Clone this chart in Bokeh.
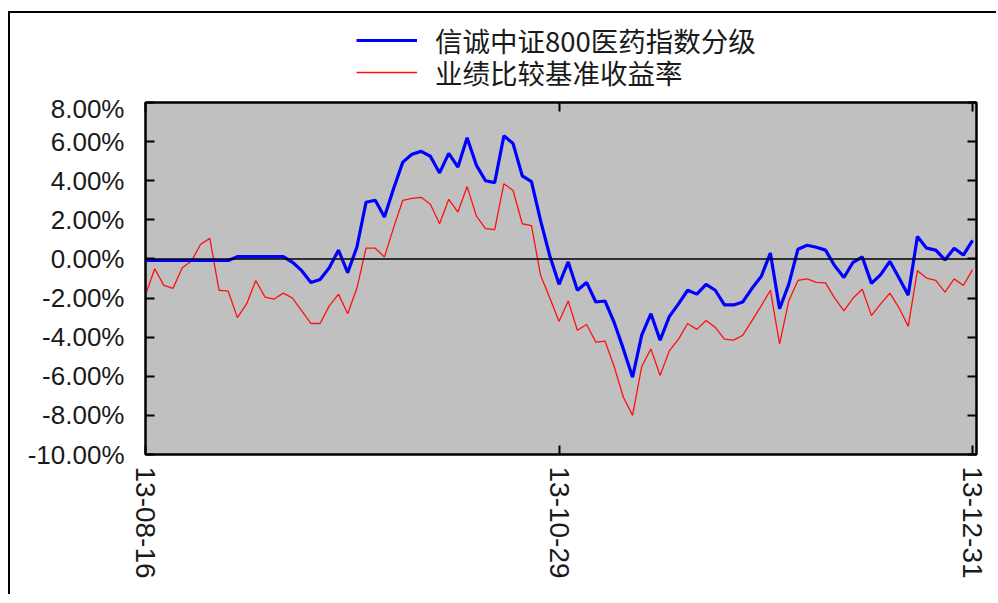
import math
from bokeh.plotting import figure
from bokeh.layouts import column
from bokeh.models import (Range1d, LinearAxis, FixedTicker, PrintfTickFormatter,
                          CustomJSTickFormatter, Span, Legend, ColumnDataSource)
from bokeh.embed import file_html
from bokeh.resources import INLINE

# ---- data (trading-day index 0..90, values in %) ----
tick_idx = [0, 45, 90]
tick_labels = ["13-08-16", "13-10-29", "13-12-31"]
series_fund_name = "信诚中证800医药指数分级"
series_bench_name = "业绩比较基准收益率"

fund = [
    -0.08, -0.08, -0.08, -0.08, -0.08, -0.08, -0.08, -0.08, -0.08, -0.08,
    0.12, 0.12, 0.12, 0.12, 0.12, 0.12,
    -0.17, -0.6, -1.2, -1.05, -0.45, 0.45, -0.7, 0.6,
    2.9, 3.0, 2.15, 3.6, 4.95, 5.35, 5.5, 5.25, 4.4, 5.4, 4.7, 6.2, 4.8, 4.0,
    3.9, 6.3, 5.9, 4.25, 3.95, 1.95, 0.15, -1.3, -0.15,
    -1.6, -1.2, -2.2, -2.15, -3.25, -4.6, -6.05, -3.9, -2.8, -4.15, -2.95,
    -2.3, -1.6, -1.8, -1.3, -1.6, -2.35, -2.35, -2.2, -1.5, -0.9, 0.3,
    -2.55, -1.3, 0.5, 0.7, 0.6, 0.45, -0.35, -0.95, -0.17, 0.1, -1.25, -0.8,
    -0.12, -0.97, -1.85, 1.15, 0.55, 0.45, -0.05, 0.55, 0.2, 0.95,
]
bench = [
    -1.85, -0.5, -1.35, -1.5, -0.45, -0.1, 0.75, 1.05, -1.6, -1.65,
    -3.0, -2.3, -1.1, -1.95, -2.05, -1.75, -2.0, -2.65, -3.3, -3.3, -2.4,
    -1.8, -2.8, -1.5,
    0.55, 0.55, 0.1, 1.6, 3.0, 3.1, 3.15, 2.8, 1.8, 3.05, 2.4, 3.7, 2.2, 1.55,
    1.5, 3.85, 3.5, 1.8, 1.7, -0.85, -2.0, -3.2, -2.15,
    -3.65, -3.35, -4.25, -4.2, -5.5, -7.07, -8.0, -5.5, -4.6, -5.96, -4.7,
    -4.1, -3.3, -3.6, -3.15, -3.5, -4.1, -4.15, -3.9, -3.15, -2.4, -1.6,
    -4.35, -2.15, -1.1, -1.02, -1.2, -1.22, -2.0, -2.65, -2.0, -1.55, -2.9,
    -2.3, -1.75, -2.5, -3.45, -0.6, -0.98, -1.1, -1.7, -1.02, -1.36, -0.55,
]
x = list(range(len(fund)))
y_ticks = [-10, -8, -6, -4, -2, 0, 2, 4, 6, 8]

FUND_COLOR = "#0000FF"
BENCH_COLOR = "#FF1010"
TXT = "#1a1a1a"

src = ColumnDataSource(data=dict(x=x, fund=fund, bench=bench))

# ---------------- main chart ----------------
p = figure(frame_width=831, frame_height=352,
           x_range=Range1d(0, 90.43), y_range=Range1d(-10, 8),
           output_backend="svg", toolbar_location=None,
           x_axis_location=None, y_axis_location=None,
           min_border_left=135, min_border_top=9,
           min_border_right=20, min_border_bottom=140)
p.background_fill_color = "#C0C0C0"
p.border_fill_color = "white"
p.outline_line_color = "black"
p.outline_line_width = 2
p.xgrid.visible = False
p.ygrid.visible = False

blank = CustomJSTickFormatter(code="return ''")

def mk_axis(ticks, show_labels, **kw):
    ax = LinearAxis(ticker=FixedTicker(ticks=ticks), **kw)
    ax.major_tick_in = 9
    ax.major_tick_out = 0
    ax.minor_tick_in = 0
    ax.minor_tick_out = 0
    ax.axis_line_width = 2
    ax.major_tick_line_width = 2
    ax.axis_line_color = "black"
    ax.major_tick_line_color = "black"
    if not show_labels:
        ax.formatter = blank
        ax.major_label_text_font_size = "2px"
        ax.major_label_standoff = 0
    return ax

left = mk_axis(y_ticks, True, formatter=PrintfTickFormatter(format="%.2f%%"))
left.major_label_text_font = "Liberation Sans"
left.major_label_text_font_size = "26px"
left.major_label_text_color = TXT
left.major_label_standoff = 21
p.add_layout(left, "left")

right = mk_axis(y_ticks, False)
p.add_layout(right, "right")

bottom = mk_axis(tick_idx, True)
bottom.major_label_overrides = {i: s for i, s in zip(tick_idx, tick_labels)}
bottom.major_label_orientation = -math.pi / 2
bottom.major_label_text_font = "Liberation Sans"
bottom.major_label_text_font_size = "28px"
bottom.major_label_text_color = TXT
bottom.major_label_standoff = 12
p.add_layout(bottom, "below")

top = mk_axis(tick_idx, False)
p.add_layout(top, "above")

p.line("x", "bench", source=src, line_color=BENCH_COLOR, line_width=1.3)
p.line("x", "fund", source=src, line_color=FUND_COLOR, line_width=3.2)

p.add_layout(Span(location=0, dimension="width", line_color="black",
                  line_width=1.5))

# ---------------- legend strip above the chart ----------------
# (same series, drawn in a view range where they stay out of sight; only
#  their legend swatches show)
lg = figure(width=986, height=80, output_backend="svg", toolbar_location=None,
            x_axis_location=None, y_axis_location=None,
            x_range=Range1d(0, 90.43), y_range=Range1d(1000, 1001),
            min_border=0)
lg.outline_line_color = None
lg.xgrid.visible = False
lg.ygrid.visible = False
lg_fund = lg.line("x", "fund", source=src, line_color=FUND_COLOR, line_width=3.2)
lg_bench = lg.line("x", "bench", source=src, line_color=BENCH_COLOR, line_width=1.3)

def mk_legend(label, rend, loc):
    lgd = Legend(items=[(label, [rend])], location=loc, orientation="vertical")
    lgd.padding = 0
    lgd.margin = 0
    lgd.spacing = 0
    lgd.glyph_width = 61
    lgd.glyph_height = 30
    lgd.label_height = 30
    lgd.label_standoff = 18
    lgd.border_line_color = None
    lgd.background_fill_alpha = 0
    lgd.label_text_font = "Noto Sans CJK SC"
    lgd.label_text_font_size = "27.5px"
    lgd.label_text_color = TXT
    return lgd

lg.add_layout(mk_legend(series_fund_name, lg_fund, (211, 33)), "center")
lg.add_layout(mk_legend(series_bench_name, lg_bench, (211, 1)), "center")

layout = column(lg, p, spacing=0)
layout.styles = {"border-left": "2px solid black", "border-top": "2px solid black",
                 "margin-top": "11px", "margin-left": "8px"}

open("out.html", "w").write(file_html(layout, INLINE))
